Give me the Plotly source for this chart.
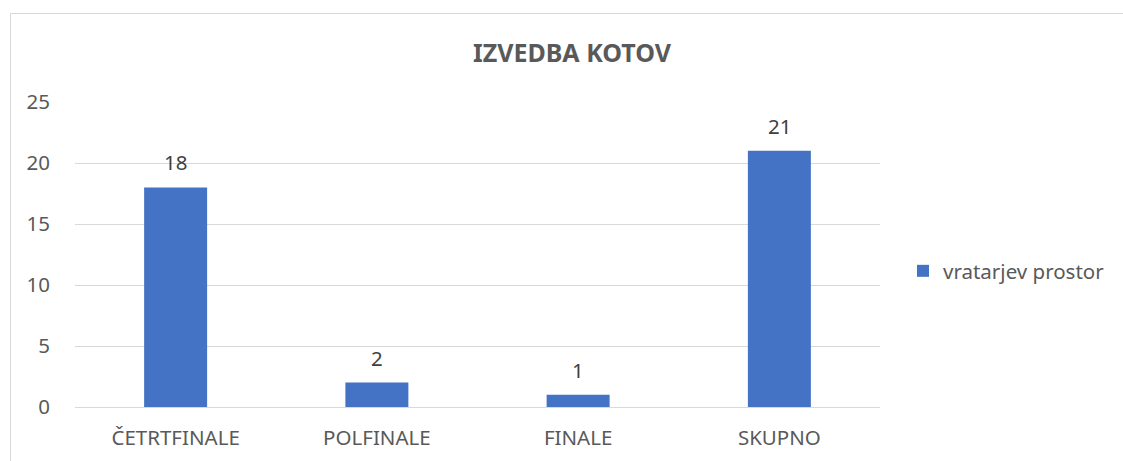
import plotly.graph_objects as go

categories = ["ČETRTFINALE", "POLFINALE", "FINALE", "SKUPNO"]
values = [18, 2, 1, 21]
series_name = "vratarjev prostor"
title_text = "IZVEDBA KOTOV"
y_ticks = [0, 5, 10, 15, 20, 25]

W, H = 1123, 461
L, R, T, B = 75, 880, 102, 407
FONT = "Noto Sans"
GRAY = "#595959"
FS = 20.5

fig = go.Figure()
fig.add_trace(go.Bar(
    x=categories, y=values, name=series_name,
    marker=dict(color="#4472c4", line=dict(width=0)),
))

def px(x):
    return (x - L) / (R - L)

def py(y):
    return (B - y) / (B - T)

annotations = [
    dict(x=c, y=v, xref="x", yref="y", text=str(v), showarrow=False,
         yanchor="bottom", yshift=9,
         font=dict(size=FS, color="#404040", family=FONT))
    for c, v in zip(categories, values)
]

fig.update_layout(
    width=W, height=H,
    margin=dict(l=L, r=W - R, t=T, b=H - B, pad=0, autoexpand=False),
    paper_bgcolor="white", plot_bgcolor="white",
    font=dict(family=FONT, size=FS, color=GRAY),
    title=dict(text="<b>" + title_text + "</b>", x=572 / W, xanchor="center",
               y=1 - 53 / H, yanchor="middle",
               font=dict(size=25, color=GRAY, family=FONT)),
    bargap=0.687,
    showlegend=True,
    legend=dict(x=px(903), y=py(271), xanchor="left", yanchor="middle",
                font=dict(size=20.5, color=GRAY), itemwidth=30,
                bgcolor="rgba(0,0,0,0)"),
    xaxis=dict(showgrid=False, showline=True, linecolor="#d9d9d9", linewidth=1,
               ticks="", ticklabelstandoff=12, automargin=False,
               tickfont=dict(size=FS, color=GRAY), fixedrange=True),
    yaxis=dict(range=[0, 25], tickvals=y_ticks, showgrid=True, gridcolor="#d9d9d9",
               gridwidth=1, zeroline=False, showline=False, ticks="",
               ticklabelstandoff=24, automargin=False,
               tickfont=dict(size=FS, color=GRAY)),
    annotations=annotations,
    shapes=[dict(type="rect", xref="paper", yref="paper",
                 x0=px(10.5), x1=px(1140), y0=py(480), y1=py(13.5),
                 line=dict(color="#d9d9d9", width=1), fillcolor="rgba(0,0,0,0)",
                 layer="below")],
)

fig.write_html("out.html", config=dict(displayModeBar=False),
               post_script="document.body.style.margin='0';document.body.style.overflow='hidden';")
